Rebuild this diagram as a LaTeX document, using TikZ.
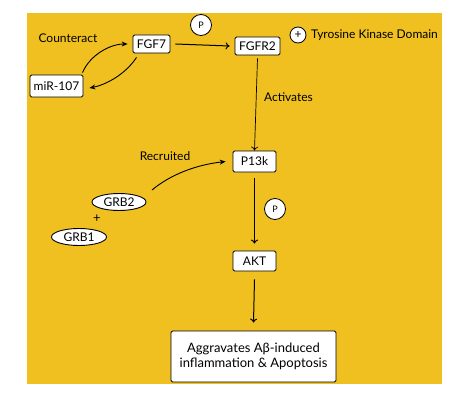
\documentclass[tikz,border=0pt]{standalone}
\usepackage{fontspec}
\setmainfont{Lato}
\usetikzlibrary{arrows.meta}
\definecolor{bgyellow}{HTML}{F0C020}
\tikzset{
  box/.style={draw=black, fill=white, rounded corners=1.5pt, line width=0.8pt, inner sep=0pt, font=\fontsize{12}{14}\selectfont},
  oval/.style={draw=black, fill=white, ellipse, line width=0.9pt, inner sep=0pt, font=\fontsize{12}{14}\selectfont},
  pcirc/.style={draw=black, fill=white, circle, line width=0.8pt, inner sep=0pt, minimum size=21pt, font=\fontsize{9}{10}\selectfont},
  lbl/.style={font=\fontsize{12}{14}\selectfont, inner sep=0pt},
  straight/.style={line width=1pt, -{To[length=4pt,width=7pt]}},
  curved/.style={line width=0.9pt, -{Stealth[length=6pt,width=5pt]}}
}
\usetikzlibrary{shapes.geometric}
\begin{document}
\begin{tikzpicture}[x=1pt,y=-1pt]
\useasboundingbox (0,0) rectangle (474,404);
\fill[white] (0,0) rectangle (474,404);
\fill[bgyellow] (27,13) rectangle (442,384);
% nodes
\node[box, minimum width=37pt, minimum height=18pt] (fgf7) at (151.5,44) {FGF7};
\node[box, minimum width=45pt, minimum height=18pt] (fgfr2) at (257.5,46) {FGFR2};
\node[box, minimum width=53pt, minimum height=22pt] (mir) at (56.5,86) {miR-107};
\node[box, minimum width=43pt, minimum height=21pt] (p13k) at (254.5,161.5) {P13k};
\node[box, minimum width=43pt, minimum height=20pt] (akt) at (254.5,261) {AKT};
\node[box, minimum width=165pt, minimum height=51pt, align=center, font=\fontsize{13}{15.5}\selectfont] (out) at (253.5,356.5) {Aggravates Aβ-induced\\inflammation \& Apoptosis};
\node[oval, minimum width=54pt, minimum height=17pt] (grb2) at (119,202) {GRB2};
\node[oval, minimum width=55pt, minimum height=17pt] (grb1) at (79,237) {GRB1};
\node[pcirc] (p1) at (201,25) {P};
\node[pcirc] (p2) at (275,209) {P};
\node[draw=black, fill=white, circle, line width=0.8pt, inner sep=0pt, minimum size=16pt, font=\fontsize{12}{12}\selectfont] (plus) at (298,35) {+};
% labels
\node[lbl, anchor=west] (tkd) at (311,35) {Tyrosine Kinase Domain};
\node[lbl] (counter) at (68,38) {Counteract};
\node[lbl] (act) at (288.5,97) {Activates};
\node[lbl] (rec) at (165,156) {Recruited};
\node[lbl, font=\fontsize{13}{13}\selectfont] (plusgrb) at (97,219) {+};
% connectors
\draw[straight] ([xshift=5pt]fgf7.east) -- ([xshift=-5pt]fgfr2.west);
\draw[straight, line width=0.7pt] ([yshift=-3pt]fgfr2.south) -- (p13k.north);
\draw[straight] ([yshift=-6pt]p13k.south) -- ([yshift=7pt]akt.north);
\draw[straight] ([yshift=-8pt]akt.south) -- ([yshift=8pt]out.north);
\draw[curved] ([xshift=26pt,yshift=2pt]mir.north) .. controls (90,55) and (110,44) .. ([xshift=-5pt]fgf7.west);
\draw[curved] ([xshift=-15pt,yshift=-4pt]fgf7.south) .. controls (125,75) and (105,85) .. ([xshift=6pt,yshift=-2pt]mir.east);
\draw[curved] (152,190) .. controls (170,175) and (195,165) .. ([xshift=-7pt]p13k.west);
\end{tikzpicture}
\end{document}
